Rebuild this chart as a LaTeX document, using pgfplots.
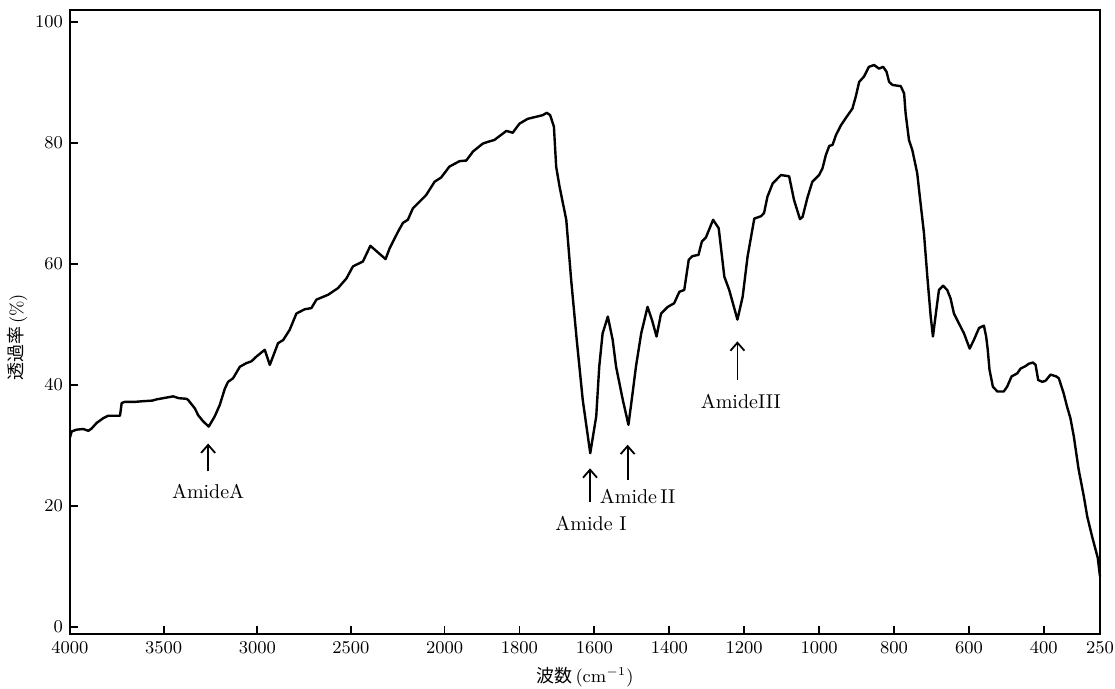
\documentclass[border=0pt]{standalone}
\usepackage{pgfplots}
\pgfplotsset{compat=1.18}
\usepackage{pgfplotstable}
\usepackage{fontspec}
\newfontfamily\cjk{Noto Sans CJK JP}
\usetikzlibrary{arrows.meta}

% IR transmission spectrum: wavenumber (cm^-1) and transmittance (%)
\pgfplotstableread{
nu T
4000 31.3
3991 32.3
3964 32.6
3929 32.7
3902 32.4
3884 32.8
3858 33.7
3822 34.5
3796 34.9
3733 34.9
3724 37.0
3707 37.2
3650 37.2
3609 37.3
3560 37.4
3538 37.6
3520 37.7
3449 38.1
3420 37.8
3378 37.7
3369 37.5
3333 36.1
3316 35.0
3290 34.0
3259 33.1
3227 34.8
3200 36.7
3173 39.4
3156 40.5
3129 41.1
3093 43.0
3058 43.6
3031 43.9
3004 44.7
2960 45.8
2933 43.3
2889 46.9
2862 47.4
2827 49.1
2791 51.8
2747 52.5
2711 52.7
2684 54.1
2622 54.9
2569 56.0
2524 57.6
2489 59.6
2436 60.4
2396 63.0
2315 60.8
2293 62.6
2249 65.3
2222 66.8
2196 67.3
2169 69.2
2098 71.4
2053 73.6
2018 74.3
1987 76.1
1960 77.0
1942 77.1
1924 78.6
1898 79.9
1884 80.2
1867 80.5
1835 82.0
1818 81.7
1800 83.2
1778 84.0
1738 84.6
1727 85.0
1718 84.6
1708 82.7
1702 76.1
1693 72.8
1675 67.3
1662 57.4
1647 47.4
1631 37.5
1611 28.7
1595 34.8
1587 43.0
1578 48.5
1564 51.3
1551 47.4
1542 43.0
1524 37.5
1509 33.4
1498 38.6
1489 43.0
1475 48.5
1458 52.9
1446 50.7
1434 48.0
1427 50.2
1422 51.8
1404 52.9
1387 53.5
1373 55.4
1360 55.7
1348 60.7
1338 61.3
1322 61.5
1313 63.7
1302 64.4
1283 67.3
1268 65.9
1253 57.9
1240 55.7
1218 50.8
1204 54.6
1191 61.2
1173 67.5
1155 67.9
1147 68.4
1138 71.1
1124 73.3
1102 74.7
1080 74.5
1067 70.6
1051 67.4
1044 67.8
1031 71.0
1018 73.6
1000 74.7
991 75.8
982 78.0
973 79.5
964 79.7
955 81.3
942 82.9
929 84.1
911 85.7
902 87.7
893 90.1
880 91.0
867 92.6
853 92.9
840 92.3
829 92.6
820 91.8
813 90.1
804 89.6
782 89.4
773 88.2
769 84.9
760 80.5
751 78.8
738 75.0
729 70.0
720 65.1
711 57.9
702 51.3
696 48.0
687 52.4
680 55.7
669 56.4
658 55.7
649 54.3
640 51.8
627 50.2
613 48.5
598 46.0
587 47.4
573 49.4
560 49.8
554 48.0
550 46.0
545 42.5
536 39.7
524 38.9
507 38.9
498 39.7
486 41.4
471 41.9
462 42.7
449 43.1
440 43.5
429 43.7
422 43.3
415 40.8
404 40.5
395 40.7
382 41.7
367 41.4
360 41.1
347 38.6
338 36.4
329 34.5
320 31.5
307 26.0
293 21.5
284 18.2
271 14.9
256 11.4
250 8.3
}\spectrum

\begin{document}
\begin{tikzpicture}
\useasboundingbox (-35pt,-27.5pt) rectangle (522.5pt,317pt);
\begin{axis}[
  at={(0,0)}, anchor=south west,
  scale only axis, width=515pt, height=312pt,
  % 4000-2000 cm^-1 is drawn at half the scale of 2000-250 cm^-1
  xmin=0, xmax=2750, ymin=-1.2, ymax=102,
  xtick={0,250,500,750,1000,1200,1400,1600,1800,2000,2200,2400,2600,2750},
  xticklabels={4000,3500,3000,2500,2000,1800,1600,1400,1200,1000,800,600,400,250},
  ytick={0,20,40,60,80,100},
  tick align=inside, tick pos=left,
  major tick length=4pt,
  tick style={line width=0.9pt, black},
  axis line style={line width=0.9pt},
  ticklabel style={font=\small},
  label style={font=\small},
  xlabel={{\cjk 波数}\,(cm$^{-1}$)},
  ylabel={{\cjk 透過率}\,(\%)},
  ylabel style={at={(ticklabel cs:0.475)}, yshift=-3pt},
  clip=false,
]
\addplot[black, line width=1.2pt, line join=round, mark=none]
  table[x expr={\thisrow{nu}>2000 ? (4000-\thisrow{nu})/2 : 3000-\thisrow{nu}}, y=T] {\spectrum};

\tikzset{amarrow/.style={line width=0.9pt, -{Straight Barb[length=4pt,width=7pt]}}}
\draw[amarrow] (axis cs:368.8,25.7) -- (axis cs:368.8,30.3);
\node at (axis cs:368.8,22.4) {AmideA};
\draw[amarrow] (axis cs:1388.5,20.7) -- (axis cs:1388.5,26.2);
\node at (axis cs:1391,17.1) {Amide I};
\draw[amarrow] (axis cs:1488.8,24.3) -- (axis cs:1488.8,30.1);
\node at (axis cs:1515.5,21.5) {Amide\,II};
\draw[amarrow] (axis cs:1782,40.8) -- (axis cs:1782,47.2);
\node at (axis cs:1791,37.2) {AmideIII};
\end{axis}
\end{tikzpicture}
\end{document}
